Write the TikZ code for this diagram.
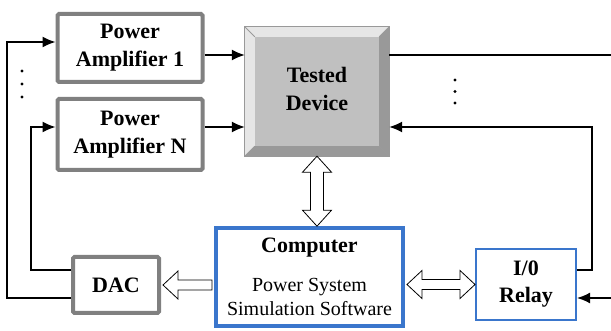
\documentclass[tikz,border=0pt]{standalone}
\usepackage{fontspec}
\setmainfont{Liberation Serif}
\usetikzlibrary{calc,arrows.meta}
\definecolor{boxgray}{HTML}{808080}
\definecolor{boxblue}{HTML}{3A76CC}
\definecolor{bevlight}{HTML}{E6E6E6}
\definecolor{bevface}{HTML}{C0C0C0}
\definecolor{bevdark}{HTML}{999999}
\begin{document}
\begin{tikzpicture}[x=1pt, y=-1pt, >={Latex[length=13pt,width=11pt]},
    graybox/.style={draw=boxgray, line width=4pt, rounded corners=1.5pt, fill=white,
        align=center, font=\fontsize{22}{28}\selectfont\bfseries},
    bluebox/.style={draw=boxblue, line width=#1, fill=white, align=center,
        font=\fontsize{22}{27}\selectfont\bfseries},
    wire/.style={line width=1.4pt},
    hollow/.style={draw=black, fill=white, line width=0.8pt, line join=miter}]
\useasboundingbox (0,0) rectangle (611,331);
% boxes
\node[graybox, minimum width=145, minimum height=68] (pa1) at (130,48) {Power\\Amplifier 1};
\node[graybox, minimum width=145, minimum height=71] (paN) at (130,134.5) {Power\\Amplifier N};
\node[graybox, minimum width=86, minimum height=56] (dac) at (116,285) {DAC};
\node[bluebox=4pt, minimum width=187, minimum height=98] (comp) at (309.5,277) {};
\node[bluebox=2.2pt, minimum width=100, minimum height=71] (relay) at (526,284.5) {I/0\\Relay};
\node[anchor=base, font=\fontsize{22}{27}\selectfont\bfseries] (comptitle) at (309.5,253) {Computer};
\node[align=center, font=\fontsize{20}{24}\selectfont] (compsw) at (309.5,296.5) {Power System\\Simulation Software};
% tested device (bevelled)
\node[minimum width=144, minimum height=129, inner sep=0pt] (td) at (317,91.5) {};
\fill[bevlight] (td.north west) rectangle (td.south east);
\fill[bevdark] (td.south west) -- (td.south east) -- (td.north east) -- ++(-10,10) -- ($(td.south east)+(-10,-10)$) -- ($(td.south west)+(10,-10)$) -- cycle;
\fill[bevface] ($(td.north west)+(10,10)$) rectangle ($(td.south east)+(-10,-10)$);
\draw[boxgray!80, line width=0.8pt] (td.north west) -- ++(10,10) (td.north east) -- ++(-10,10)
    (td.south west) -- ++(10,-10) (td.south east) -- ++(-10,-10);
\draw[bevdark, line width=0.8pt] (td.north west) rectangle (td.south east);
\node[align=center, font=\fontsize{22}{28}\selectfont\bfseries] (tdtext) at (317,88.5) {Tested\\Device};
% signal wires
\coordinate (outR) at (611,55);
\coordinate (inR) at (611,298);
\draw[wire, ->] ($(dac.west)+(0,13)$) -| (7,42) -- (pa1.west |- 0,42);
\draw[wire, ->] ($(dac.west)+(0,-15)$) -| (31,127) -- (paN.west |- 0,127);
\draw[wire, ->] (pa1.east |- 0,55) -- (td.west |- 0,55);
\draw[wire, ->] (paN.east |- 0,127) -- (td.west |- 0,127);
\draw[wire] (td.east |- outR) -- (outR);
\draw[wire, ->] ($(relay.east)+(0,-14.5)$) -| (592,127) -- (td.east |- 0,127);
\draw[wire, ->] (inR) -- (relay.east |- inR);
% dots
\foreach \y in {71,84,97} \fill (22,\y) circle (1.7);
\foreach \y in {80,91.5,103} \fill (455,\y) circle (1.7);
% hollow arrows
\draw[hollow] (td.south) -- ++(14.5,16) -- ++(-8,0) -- ++(0,38) -- ++(8,0) -- ++(-14.5,16)
    -- ++(-14.5,-16) -- ++(8,0) -- ++(0,-38) -- ++(-8,0) -- cycle;
\draw[hollow] (comp.east |- relay.center) ++(2,0) -- ++(15,-14) -- ++(0,9) -- ++(38,0) -- ++(0,-9)
    -- ++(15,14) -- ++(-15,14) -- ++(0,-9) -- ++(-38,0) -- ++(0,9) -- cycle;
\draw[hollow] (dac.east) ++(2,0) -- ++(15,-14) -- ++(0,9) -- ++(34,0) -- ++(0,10) -- ++(-34,0)
    -- ++(0,9) -- cycle;
\end{tikzpicture}
\end{document}
